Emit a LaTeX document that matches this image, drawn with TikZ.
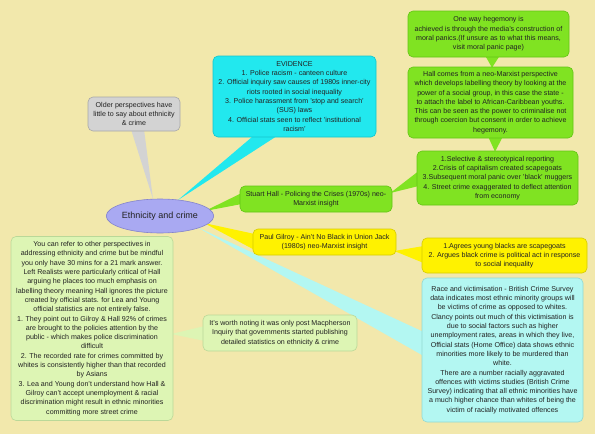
\documentclass[tikz,border=0pt]{standalone}
\usepackage{fontspec}
\setmainfont{Liberation Sans}
\usetikzlibrary{calc,backgrounds,shapes.geometric}
\definecolor{bg}{HTML}{F2E8AC}
\definecolor{grayf}{HTML}{D3D3D3}
\definecolor{grayd}{HTML}{A8A8A8}
\definecolor{ellf}{HTML}{A9A9F2}
\definecolor{elld}{HTML}{8484CC}
\definecolor{cyanf}{HTML}{22E8EE}
\definecolor{cyand}{HTML}{14C4CC}
\definecolor{greenf}{HTML}{80E322}
\definecolor{greend}{HTML}{62C414}
\definecolor{yellowf}{HTML}{FFF200}
\definecolor{yellowd}{HTML}{D6CB00}
\definecolor{lcyanf}{HTML}{B3F7F2}
\definecolor{lcyand}{HTML}{92D8D2}
\definecolor{lgreenf}{HTML}{DDF5B4}
\definecolor{lgreend}{HTML}{BAD898}
\definecolor{txt}{HTML}{222222}
\begin{document}
\begin{tikzpicture}[x=1pt,y=-1pt,
  box/.style={rounded corners=5pt, draw, line width=0.6pt, align=center, inner sep=2pt,
    font=\fontsize{7.1}{9.3}\selectfont, text=txt},
  graybox/.style={box, fill=grayf, draw=grayd},
  cyanbox/.style={box, fill=cyanf, draw=cyand},
  greenbox/.style={box, fill=greenf, draw=greend},
  yellowbox/.style={box, fill=yellowf, draw=yellowd},
  lcyanbox/.style={box, fill=lcyanf, draw=lcyand},
  lgreenbox/.style={box, fill=lgreenf, draw=lgreend}
]
\useasboundingbox (0,0) rectangle (595,434);

\node[ellipse, fill=ellf, draw=elld, line width=0.6pt, minimum width=94pt, minimum height=34pt,
  inner sep=0pt, font=\fontsize{9}{11}\selectfont, text=txt] (ell) at (160,216) {Ethnicity and crime};

\node[graybox, minimum width=92pt, minimum height=34pt] (older) at (134,114)
  {Older perspectives have\\little to say about ethnicity\\\& crime};

\node[cyanbox, minimum width=163pt, minimum height=81pt] (evid) at (294.5,96.5)
  {EVIDENCE\\1. Police racism - canteen culture\\2. Official inquiry saw causes of 1980s inner-city\\riots rooted in social inequality\\3. Police harassment from 'stop and search'\\(SUS) laws\\4. Official stats seen to reflect 'institutional\\racism'};

\node[greenbox, minimum width=161pt, minimum height=46pt] (heg) at (488.5,34)
  {One way hegemony is\\achieved is through the media's construction of\\moral panics.(If unsure as to what this means,\\visit moral panic page)};

\node[greenbox, minimum width=165pt, minimum height=71pt] (hall) at (490.5,102.5)
  {Hall comes from a neo-Marxist perspective\\which develops labelling theory by looking at the\\power of a social group, in this case the state -\\to attach the label to African-Caribbean youths.\\This can be seen as the power to criminalise not\\through coercion but consent in order to achieve\\hegemony.};

\node[greenbox, minimum width=161pt, minimum height=54pt] (list) at (497.5,178)
  {1.Selective \& stereotypical reporting\\2.Crisis of capitalism created scapegoats\\3.Subsequent moral panic over 'black' muggers\\4. Street crime exaggerated to deflect attention\\from economy};

\node[greenbox, minimum width=152pt, minimum height=26pt] (stuart) at (316,199)
  {Stuart Hall - Policing the Crises (1970s) neo-\\Marxist insight};

\node[yellowbox, minimum width=143pt, minimum height=26pt] (gilroy) at (324.5,242)
  {Paul Gilroy - Ain't No Black in Union Jack\\(1980s) neo-Marxist insight};

\node[yellowbox, minimum width=165pt, minimum height=35pt] (glist) at (504.5,255.5)
  {1.Agrees young blacks are scapegoats\\2. Argues black crime is political act in response\\to social inequality};

\node[lcyanbox, minimum width=161pt, minimum height=144pt] (race) at (502.5,350)
  {Race and victimisation - British Crime Survey\\data indicates most ethnic minority groups will\\be victims of crime as opposed to whites.\\Clancy points out much of this victimisation is\\due to social factors such as higher\\unemployment rates, areas in which they live,\\Official stats (Home Office) data shows ethnic\\minorities more likely to be murdered than\\white.\\There are a number racially aggravated\\offences with victims studies (British Crime\\Survey) indicating that all ethnic minorities have\\a much higher chance than whites of being the\\victim of racially motivated offences};

\node[lgreenbox, minimum width=162pt, minimum height=184pt] (left) at (92,328.5)
  {You can refer to other perspectives in\\addressing ethnicity and crime but be mindful\\you only have 30 mins for a 21 mark answer.\\Left Realists were particularly critical of Hall\\arguing he places too much emphasis on\\labelling theory meaning Hall ignores the picture\\created by official stats. for Lea and Young\\official statistics are not entirely false.\\1. They point out to Gilroy \& Hall 92\% of crimes\\are brought to the policies attention by the\\public - which makes police discrimination\\difficult\\2. The recorded rate for crimes committed by\\whites is consistently higher than that recorded\\by Asians\\3. Lea and Young don't understand how Hall \&\\Gilroy can't accept unemployment \& racial\\discrimination might result in ethnic minorities\\committing more street crime};

\node[lgreenbox, minimum width=154pt, minimum height=36pt] (mac) at (280,333)
  {It's worth noting it was only post Macpherson\\Inquiry that governments started publishing\\detailed statistics on ethnicity \& crime};

\begin{pgfonlayer}{background}
\fill[bg] (0,0) rectangle (595,434);
% branches from the central ellipse
\fill[grayf] ($(older.south)+(-3,-2)$) -- ($(older.south)+(10,-2)$) -- ($(ell.center)+(-7,-17)$) -- cycle;
\fill[cyanf] ($(evid.south)+(-40.5,-2)$) -- ($(evid.south)+(-16.5,-2)$) -- ($(ell.center)+(18,-16)$) -- cycle;
\fill[greenf] ($(stuart.west)+(2,-6)$) -- ($(stuart.west)+(2,5)$) -- ($(ell.center)+(45,-5)$) -- cycle;
\fill[yellowf] ($(gilroy.west)+(2,-8)$) -- ($(gilroy.west)+(2,8)$) -- ($(ell.center)+(44,7)$) -- cycle;
\fill[lcyanf] ($(race.west)+(2,-18)$) -- ($(race.west)+(2,6)$) -- ($(ell.center)+(37,11)$) -- cycle;
% secondary branches
\fill[greenf] ($(list.west)+(2,-7)$) -- ($(list.west)+(2,8)$) -- ($(stuart.east)+(-2,-6)$) -- cycle;
\fill[yellowf] ($(glist.west)+(2,-9.5)$) -- ($(glist.west)+(2,7.5)$) -- ($(gilroy.east)+(-2,9)$) -- cycle;
\fill[greenf] ($(hall.south)+(-2.5,-2)$) -- ($(hall.south)+(12.5,-2)$) -- ($(list.north)+(-2.5,1)$) -- cycle;
\fill[greenf] ($(heg.south)+(-3.5,-2)$) -- ($(heg.south)+(11.5,-2)$) -- ($(hall.north)+(1.5,1)$) -- cycle;
\fill[lgreenf] ($(mac.west)+(2,-7)$) -- ($(mac.west)+(2,8)$) -- ($(left.east)+(-2,5.5)$) -- cycle;
\end{pgfonlayer}
\end{tikzpicture}
\end{document}
